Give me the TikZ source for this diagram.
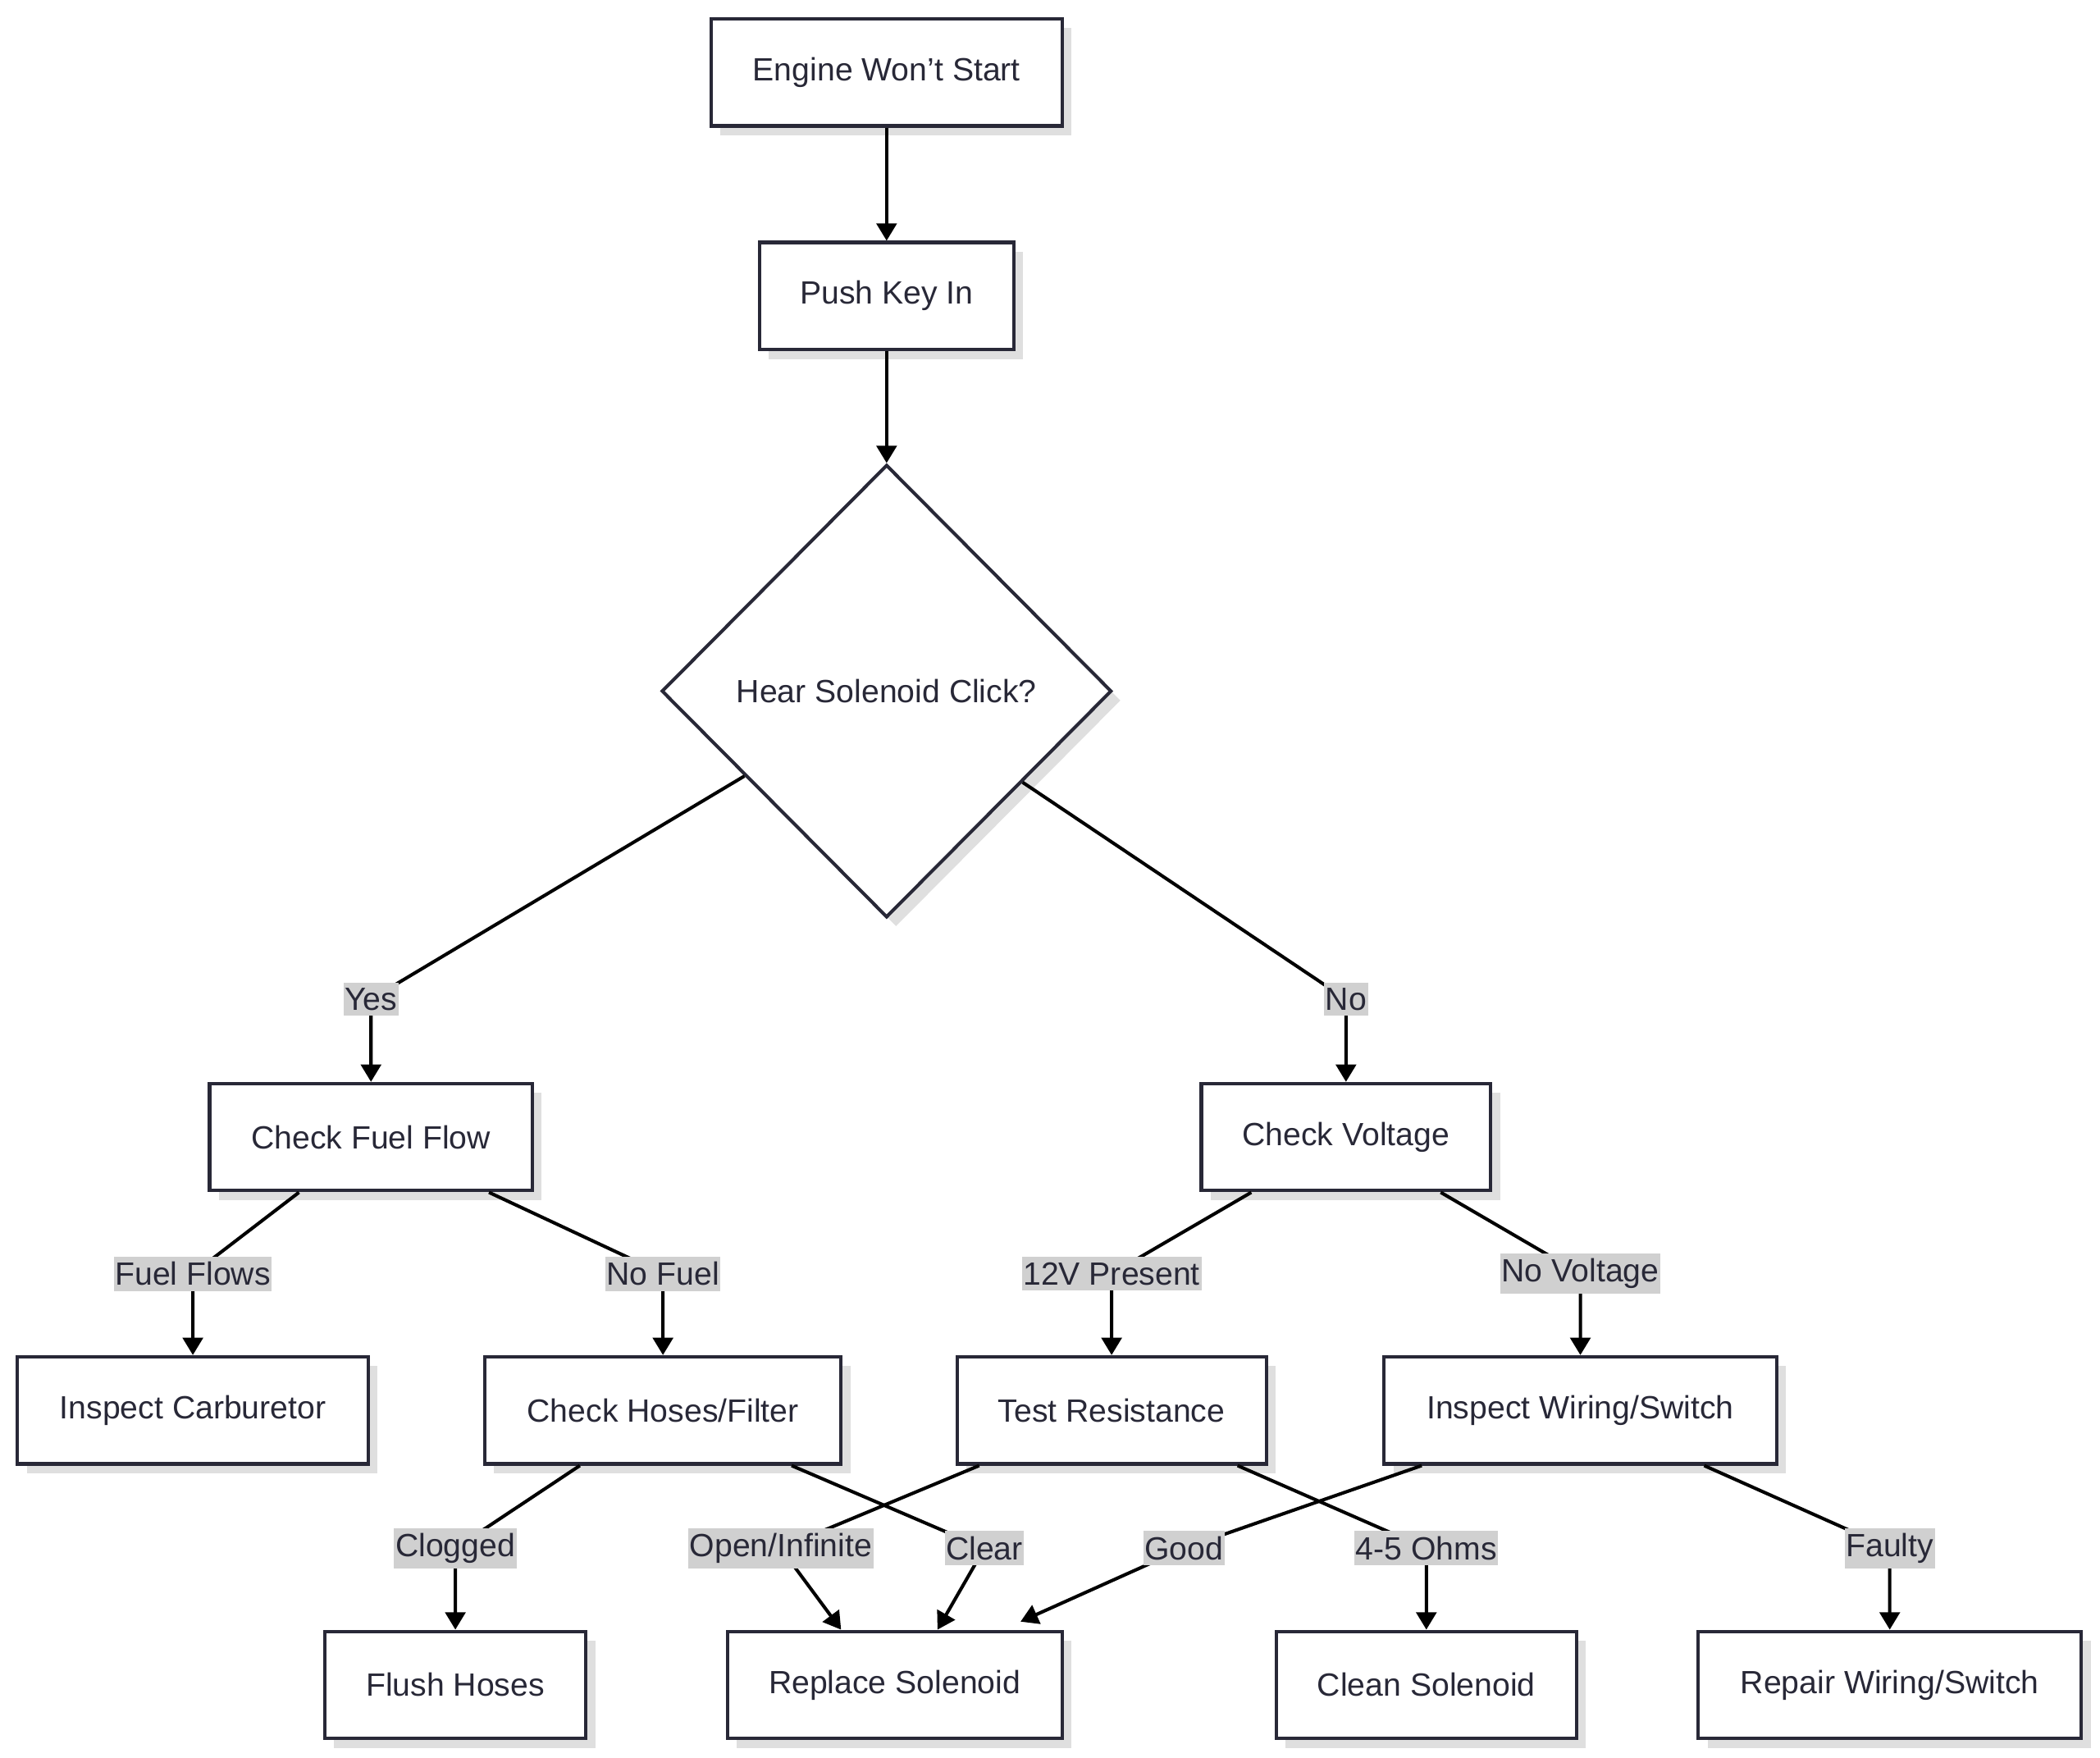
\documentclass[tikz,border=0pt]{standalone}
\usepackage{fontspec}
\setmainfont{Liberation Sans}
\usetikzlibrary{shapes.geometric,arrows.meta,shadows}
\definecolor{ink}{RGB}{40,40,55}
\definecolor{lbg}{RGB}{208,208,208}
\begin{document}
\begin{tikzpicture}[x=1pt,y=-1pt,
  every node/.style={font=\fontsize{24}{28}\selectfont, text=ink},
  box/.style={draw=ink, line width=2.5pt, fill=white, minimum height=80pt, inner sep=0pt,
    drop shadow={shadow xshift=7pt, shadow yshift=-7pt, fill=gray!25, opacity=1}},
  dia/.style={diamond, draw=ink, line width=2.5pt, fill=white, minimum width=336pt, minimum height=338pt, inner sep=0pt, aspect=1,
    drop shadow={shadow xshift=7pt, shadow yshift=-7pt, fill=gray!25, opacity=1}},
  lbl/.style={fill=lbg, inner xsep=1pt, inner ysep=4pt},
  edge/.style={line width=2.5pt, draw=black, -{Triangle[length=13pt,width=15pt]}}]
\useasboundingbox (0,0) rectangle (1568,1312);
\node[box, minimum width=262pt] (ews) at (662,54) {Engine Won\symbol{39}t Start};
\node[box, minimum width=190pt] (pki) at (662,221) {Push Key In};
\node[dia] (hsc) at (662,516) {Hear Solenoid Click?};
\node[box, minimum width=241pt] (cff) at (277,849) {Check Fuel Flow};
\node[box, minimum width=216pt] (cv) at (1005,849) {Check Voltage};
\node[box, minimum width=262pt] (ic) at (144,1053) {Inspect Carburetor};
\node[box, minimum width=266pt] (chf) at (495,1053) {Check Hoses/Filter};
\node[box, minimum width=231pt] (tr) at (830,1053) {Test Resistance};
\node[box, minimum width=293pt] (iws) at (1180,1053) {Inspect Wiring/Switch};
\node[box, minimum width=195pt] (fh) at (340,1258) {Flush Hoses};
\node[box, minimum width=250pt] (rs) at (668,1258) {Replace Solenoid};
\node[box, minimum width=224pt] (cs) at (1065,1258) {Clean Solenoid};
\node[box, minimum width=286pt] (rws) at (1411,1258) {Repair Wiring/Switch};

\coordinate (lyes) at (277,746);
\coordinate (lno) at (1005,746);
\coordinate (lff) at (144,951);
\coordinate (lnf) at (495,951);
\coordinate (l12) at (830,951);
\coordinate (lnv) at (1180,951);
\coordinate (lcl) at (340,1156);
\coordinate (lclr) at (735,1156);
\coordinate (lop) at (583,1156);
\coordinate (l45) at (1065,1156);
\coordinate (lgd) at (884,1156);
\coordinate (lft) at (1411,1156);

\draw[edge] (ews) -- (pki);
\draw[edge] (pki) -- (hsc);
\draw[edge] (hsc) -- (lyes) -- (cff);
\draw[edge] (hsc) -- (lno) -- (cv);
\draw[edge] (cff) -- (lff) -- (ic);
\draw[edge] (cff) -- (lnf) -- (chf);
\draw[edge] (cv) -- (l12) -- (tr);
\draw[edge] (cv) -- (lnv) -- (iws);
\draw[edge] (chf) -- (lcl) -- (fh);
\draw[edge] (chf) -- (lclr) -- ([xshift=32pt]rs.north);
\draw[edge] (tr) -- (lop) -- ([xshift=-40pt]rs.north);
\draw[edge] (tr) -- (l45) -- (cs);
\draw[edge] (iws) -- (lgd) -- ([xshift=94pt,yshift=6pt]rs.north);
\draw[edge] (iws) -- (lft) -- (rws);

\node[lbl] at (lyes) {Yes};
\node[lbl] at (lno) {No};
\node[lbl] at (lff) {Fuel Flows};
\node[lbl] at (lnf) {No Fuel};
\node[lbl] at (l12) {12V Present};
\node[lbl] at (lnv) {No Voltage};
\node[lbl] at (lcl) {Clogged};
\node[lbl] at (lclr) {Clear};
\node[lbl] at (lop) {Open/Infinite};
\node[lbl] at (l45) {4-5 Ohms};
\node[lbl] at (lgd) {Good};
\node[lbl] at (lft) {Faulty};
\end{tikzpicture}
\end{document}
